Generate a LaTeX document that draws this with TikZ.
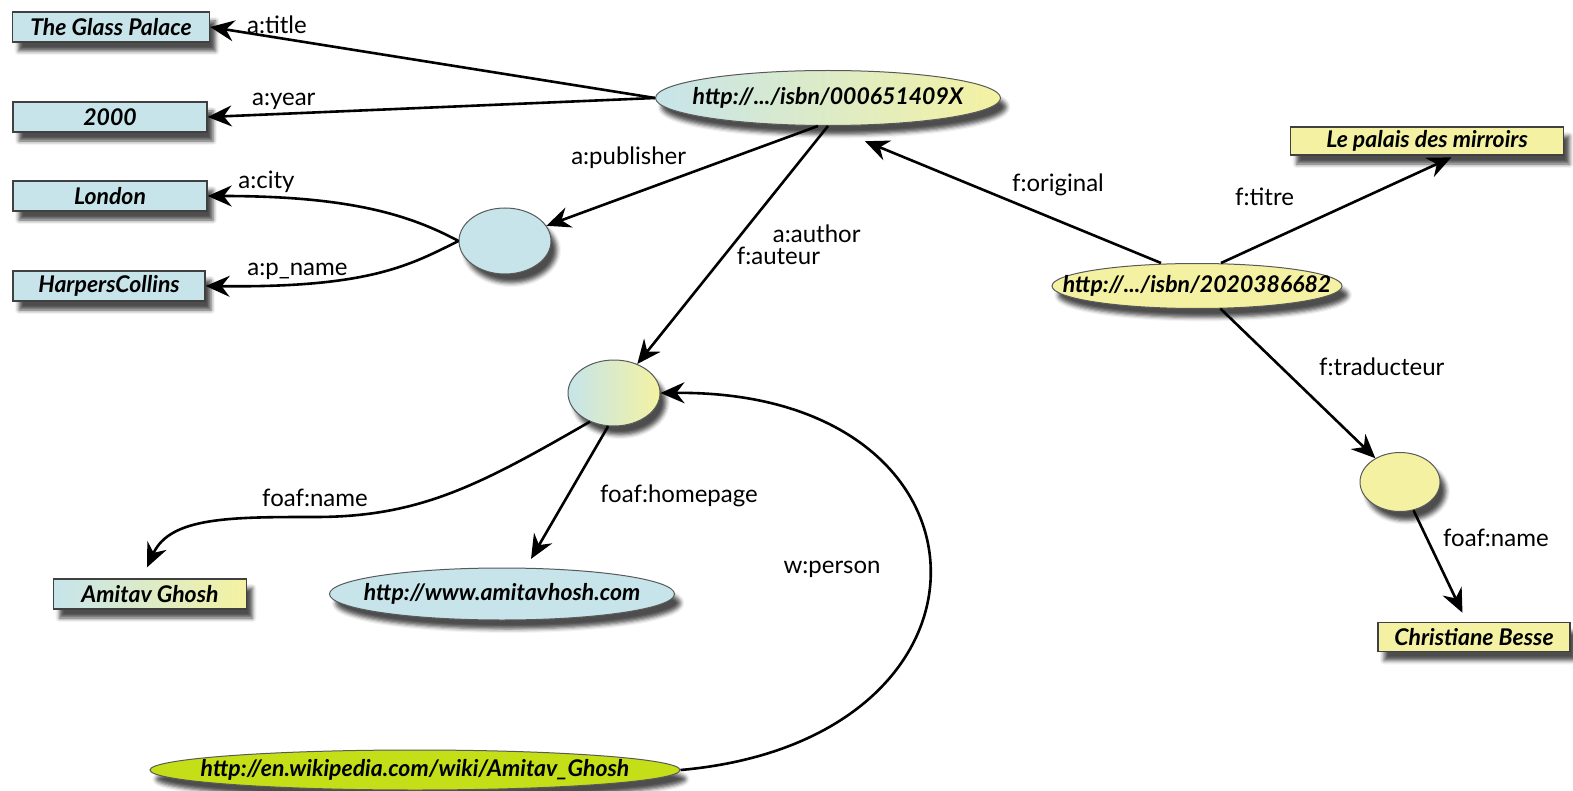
\documentclass[tikz,border=0pt]{standalone}
\usepackage{fontspec}
\setmainfont{Lato}
\usepackage{xcolor}
\usetikzlibrary{shapes,arrows.meta,positioning,shadows.blur}

\definecolor{litblue}{HTML}{C6E4EA}
\definecolor{lityellow}{HTML}{F4F2A2}
\definecolor{wikilime}{HTML}{C4DF18}

\begin{document}
\begin{tikzpicture}[
        x=0.5pt, y=-0.5pt,
        lit/.style={rectangle, draw=black!75, line width=.7pt, fill=litblue, inner sep=0pt, minimum width=97pt, minimum height=15pt, font=\bfseries\itshape\fontsize{11.5}{13}\selectfont, blur shadow={shadow xshift=3pt, shadow yshift=-4.5pt, shadow opacity=70}},
        res/.style={ellipse, draw=black!65, line width=.5pt, fill=litblue, inner xsep=-40pt, inner ysep=0pt, font=\bfseries\itshape\fontsize{11.5}{13}\selectfont, blur shadow={shadow xshift=3pt, shadow yshift=-4.5pt, shadow opacity=70}},
        blank/.style={res, minimum width=46pt, minimum height=33pt},
        rel/.style={-{Stealth[length=12pt,width=10.5pt,inset=4pt]}, line width=1.3pt},
        lbl/.style={font=\fontsize{12}{11}\selectfont, inner sep=1.5pt},
        ]
      \useasboundingbox (0,0) rectangle (1573,791);

      % literals on the left
      \node [lit, minimum width=98.5pt] (glass) at (111,27) {The Glass Palace};
      \node [lit] (year) at (110,117) {2000};
      \node [lit] (london) at (110,196) {London};
      \node [lit, minimum width=96pt] (harpers) at (109,286) {HarpersCollins};

      % resources
      \node [res, left color=litblue, right color=lityellow, minimum width=172.5pt, minimum height=27.5pt] (isbn1) at (828,98) {http://.../isbn/000651409X};
      \node [blank] (pub) at (505,241) {};
      \node [blank, left color=litblue, right color=lityellow] (author) at (614,393) {};
      \node [res, fill=lityellow, minimum width=145pt, minimum height=22.5pt] (isbn2) at (1197,286) {http://.../isbn/2020386682};
      \node [lit, fill=lityellow, minimum width=136.5pt, minimum height=14pt] (palais) at (1427,141) {Le palais des mirroirs};
      \node [blank, fill=lityellow, minimum width=40pt, minimum height=29.5pt] (trans) at (1400,482) {};
      \node [lit, fill=lityellow, minimum width=96pt, minimum height=14.5pt] (besse) at (1474,637) {Christiane Besse};
      \node [lit, left color=litblue, right color=lityellow, minimum width=96.5pt] (amitav) at (150,594) {Amitav Ghosh};
      \node [res, minimum width=172.5pt, minimum height=26pt] (homepage) at (502,594) {http://www.amitavhosh.com};
      \node [res, fill=wikilime, minimum width=265pt, minimum height=20pt] (wiki) at (415,770) {http://en.wikipedia.com/wiki/Amitav\_Ghosh};

      \draw[rel] (isbn1.west) -- node[lbl, pos=.85, above] {a:title} (glass.east);
      \draw[rel] (isbn1.west) -- node[lbl, pos=.83, above] {a:year} (year.east);
      \draw[rel] ([xshift=-5pt]isbn1.south) -- node[lbl, pos=.47, anchor=south east] {a:publisher} (pub);
      \draw[rel] (isbn1.south) -- node[lbl, pos=.5, anchor=west, align=left] {\hspace*{18pt}a:author\\f:auteur} (author);
      \draw[rel] (pub.west) .. controls (410,215) and (350,196) .. (london.east) node[lbl, pos=.85, above] {a:city};
      \draw[rel] (pub.west) .. controls (410,265) and (370,288) .. (harpers.east) node[lbl, pos=.78, above] {a:p\_name};
      \draw[rel, shorten >=20pt] ([xshift=-18pt]isbn2.north) -- node[lbl, pos=.46, anchor=south west] {f:original} (isbn1.south);
      \draw[rel, shorten >=2pt] ([xshift=12pt]isbn2.north) -- node[lbl, pos=.33, anchor=south east, yshift=9pt] {f:titre} ([xshift=14pt]palais.south);
      \draw[rel] (isbn2) -- node[lbl, pos=.39, right=17pt] {f:traducteur} (trans);
      \draw[rel, shorten >=5pt] (trans) -- node[lbl, pos=.25, right=6pt] {foaf:name} (besse);
      \draw[rel, shorten >=6pt] (author.230) .. controls (480,485) and (420,517) .. (315,517) node[lbl, above=3pt] {foaf:name}
            .. controls (230,517) and (170,517) .. ([xshift=-4pt]amitav.north);
      \draw[rel, shorten >=5pt] (author.-100) -- node[lbl, pos=.49, right=14pt] {foaf:homepage} ([xshift=12pt]homepage.north);
      \draw[rel] (wiki.east) .. controls (1020,740) and (1010,390) .. (author.east) node[lbl, pos=.5, left=22pt] {w:person};
    \end{tikzpicture}
\end{document}
